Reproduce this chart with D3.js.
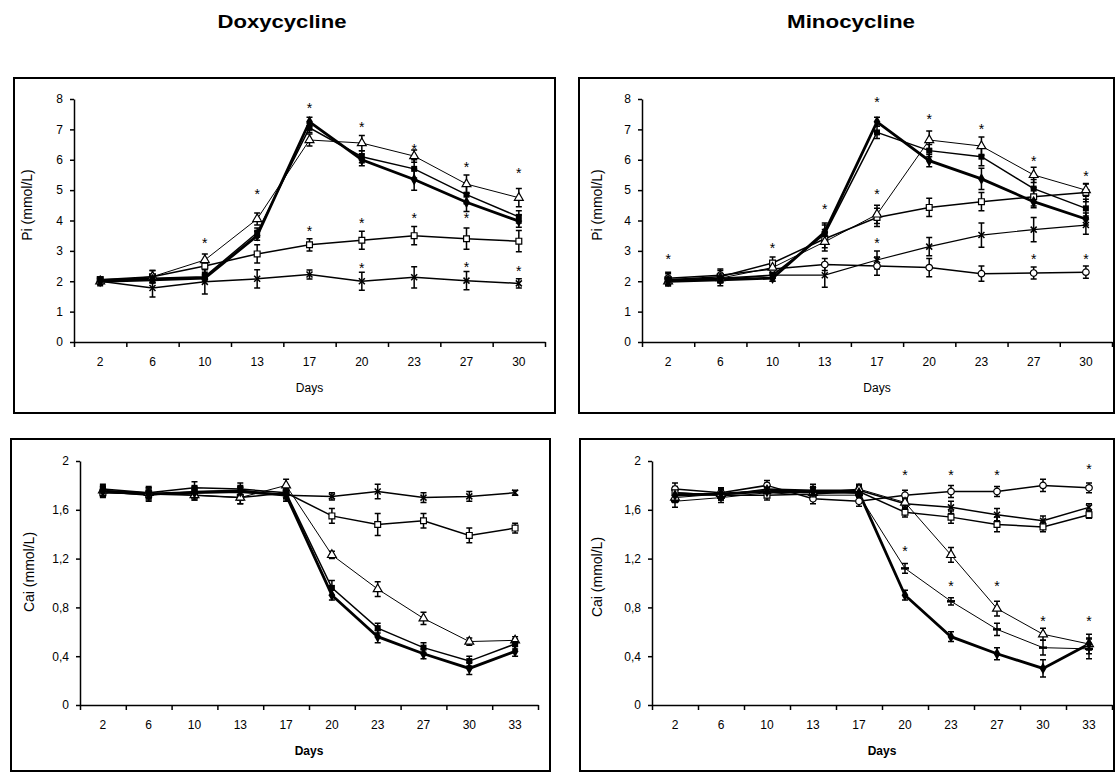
<!DOCTYPE html>
<html><head><meta charset="utf-8">
<script src="https://cdn.jsdelivr.net/npm/d3@7/dist/d3.min.js"></script>
<style>
body{margin:0;background:#fff;}
svg text{font-family:"Liberation Sans",Arial,sans-serif;fill:#000;}
</style></head>
<body><svg id="c" width="1115" height="773"></svg>
<script>
// ---------- categories & tick labels ----------
const daysPi = ["2","6","10","13","17","20","23","27","30"];
const daysCa = ["2","6","10","13","17","20","23","27","30","33"];
const piTicks = [0,1,2,3,4,5,6,7,8];
const caTicks = [0,0.4,0.8,1.2,1.6,2];
const caTickLabels = ["0","0,4","0,8","1,2","1,6","2"];

// ---------- Doxycycline Pi ----------
const dPiDiamond  = [2.0,2.05,2.1,3.5,7.25,6.0,5.35,4.6,3.98];
const dPiFSquare  = [2.05,2.1,2.15,3.6,7.05,6.1,5.7,4.85,4.12];
const dPiTriangle = [2.0,2.15,2.7,4.05,6.65,6.55,6.12,5.2,4.75];
const dPiOSquare  = [2.05,2.15,2.5,2.9,3.2,3.35,3.5,3.4,3.32];
const dPiCross    = [2.0,1.78,1.98,2.08,2.22,2.0,2.13,2.02,1.93];
const dPiDiamondE  = [0.1,0.1,0.1,0.15,0.15,0.2,0.35,0.3,0.2];
const dPiFSquareE  = [0.1,0.1,0.1,0.15,0.15,0.2,0.3,0.3,0.2];
const dPiTriangleE = [0.1,0.2,0.2,0.2,0.2,0.25,0.2,0.3,0.3];
const dPiOSquareE  = [0.1,0.2,0.2,0.3,0.2,0.3,0.3,0.35,0.35];
const dPiCrossE    = [0.15,0.3,0.4,0.3,0.15,0.3,0.35,0.3,0.15];
const dPiStars = [[2,3.3],[3,4.9],[4,7.75],[5,7.1],[6,6.4],[7,5.8],[8,5.6],[4,3.7],[5,3.96],[6,4.1],[7,4.1],[5,2.48],[7,2.5],[8,2.37]];

// ---------- Minocycline Pi ----------
const mPiDiamond  = [2.0,2.05,2.1,3.62,7.25,5.97,5.37,4.62,4.05];
const mPiFSquare  = [2.05,2.1,2.2,3.55,6.9,6.3,6.1,5.05,4.4];
const mPiTriangle = [2.0,2.1,2.45,3.3,4.2,6.65,6.45,5.5,5.0];
const mPiOSquare  = [2.05,2.15,2.6,3.4,4.1,4.43,4.62,4.78,4.92];
const mPiCross    = [2.0,2.05,2.2,2.2,2.7,3.14,3.52,3.7,3.85];
const mPiCircle   = [2.1,2.2,2.4,2.55,2.5,2.45,2.25,2.27,2.3];
const mPiDiamondE  = [0.1,0.1,0.1,0.3,0.15,0.2,0.35,0.2,0.2];
const mPiFSquareE  = [0.1,0.1,0.1,0.3,0.2,0.2,0.3,0.3,0.3];
const mPiTriangleE = [0.1,0.1,0.2,0.3,0.3,0.3,0.3,0.25,0.2];
const mPiOSquareE  = [0.2,0.2,0.2,0.3,0.3,0.3,0.3,0.3,0.3];
const mPiCrossE    = [0.15,0.2,0.2,0.4,0.3,0.3,0.4,0.4,0.3];
const mPiCircleE   = [0.2,0.2,0.2,0.2,0.3,0.3,0.25,0.2,0.2];
const mPiStars = [[0,2.75],[2,3.14],[3,4.42],[4,7.93],[5,7.38],[6,7.03],[7,6.0],[8,5.5],[4,4.9],[4,3.3],[7,2.78],[8,2.78]];

// ---------- Doxycycline Cai ----------
const dCaDiamond  = [1.75,1.73,1.74,1.75,1.72,0.9,0.56,0.42,0.3,0.44];
const dCaFSquare  = [1.77,1.74,1.78,1.77,1.74,0.96,0.63,0.47,0.36,0.5];
const dCaTriangle = [1.76,1.74,1.72,1.7,1.8,1.23,0.95,0.71,0.52,0.53];
const dCaOSquare  = [1.74,1.73,1.72,1.7,1.74,1.55,1.48,1.51,1.39,1.45];
const dCaCross    = [1.75,1.72,1.75,1.76,1.72,1.71,1.75,1.7,1.71,1.74];
const dCaDiamondE  = [0.04,0.04,0.04,0.04,0.05,0.04,0.05,0.04,0.05,0.04];
const dCaFSquareE  = [0.04,0.04,0.05,0.05,0.05,0.06,0.04,0.04,0.04,0.04];
const dCaTriangleE = [0.04,0.04,0.04,0.05,0.05,0.03,0.06,0.05,0.03,0.03];
const dCaOSquareE  = [0.04,0.06,0.04,0.05,0.05,0.06,0.09,0.06,0.06,0.04];
const dCaCrossE    = [0.04,0.04,0.04,0.04,0.05,0.03,0.06,0.04,0.04,0.02];

// ---------- Minocycline Cai ----------
const mCaDiamond  = [1.72,1.73,1.75,1.75,1.74,0.9,0.56,0.42,0.3,0.5];
const mCaFSquare  = [1.74,1.72,1.77,1.76,1.76,1.65,1.62,1.56,1.51,1.62];
const mCaTriangle = [1.7,1.73,1.76,1.74,1.77,1.66,1.23,0.79,0.58,0.5];
const mCaOSquare  = [1.74,1.72,1.72,1.73,1.75,1.58,1.54,1.48,1.46,1.56];
const mCaDash     = [1.67,1.7,1.74,1.72,1.72,1.12,0.85,0.62,0.47,0.46];
const mCaCircle   = [1.77,1.74,1.8,1.69,1.67,1.72,1.75,1.75,1.8,1.78];
const mCaDiamondE  = [0.04,0.04,0.04,0.04,0.04,0.04,0.04,0.05,0.07,0.05];
const mCaFSquareE  = [0.05,0.04,0.05,0.05,0.04,0.04,0.05,0.05,0.04,0.03];
const mCaTriangleE = [0.04,0.04,0.05,0.04,0.04,0.04,0.06,0.06,0.05,0.08];
const mCaOSquareE  = [0.04,0.04,0.04,0.04,0.04,0.04,0.05,0.06,0.04,0.03];
const mCaDashE     = [0.05,0.04,0.04,0.04,0.04,0.04,0.03,0.05,0.06,0.08];
const mCaCircleE   = [0.05,0.04,0.04,0.04,0.04,0.04,0.05,0.04,0.05,0.04];
const mCaStars = [[5,1.89],[6,1.89],[7,1.89],[9,1.94],[5,1.27],[6,0.98],[7,0.98],[8,0.7],[9,0.7]];

// ---------- drawing ----------
const svg = d3.select("#c");

function marker(g, type, x, y){
  const s = g.append("g").attr("transform", `translate(${x},${y})`);
  if(type==="diamond") s.append("path").attr("d", d3.symbol(d3.symbolDiamond, 40)()).attr("fill","#000");
  else if(type==="fsquare") s.append("path").attr("d", d3.symbol(d3.symbolSquare, 36)()).attr("fill","#000");
  else if(type==="triangle") s.append("path").attr("d", d3.symbol(d3.symbolTriangle, 34)()).attr("fill","#fff").attr("stroke","#000").attr("stroke-width",1.2);
  else if(type==="osquare") s.append("path").attr("d", d3.symbol(d3.symbolSquare, 34)()).attr("fill","#fff").attr("stroke","#000").attr("stroke-width",1.2);
  else if(type==="circle") s.append("path").attr("d", d3.symbol(d3.symbolCircle, 34)()).attr("fill","#fff").attr("stroke","#000").attr("stroke-width",1.2);
  else if(type==="cross") s.append("path").attr("d","M-3,-3L3,3M-3,3L3,-3").attr("stroke","#000").attr("stroke-width",1.5);
  else if(type==="dash") s.append("path").attr("d","M-4,0L4,0").attr("stroke","#000").attr("stroke-width",2.5);
}

function panel(o){
  const g = svg.append("g");
  g.append("rect").attr("x",o.box[0]).attr("y",o.box[1]).attr("width",o.box[2]-o.box[0]).attr("height",o.box[3]-o.box[1])
    .attr("fill","none").attr("stroke","#000").attr("stroke-width",2);
  const x = d3.scaleBand().domain(o.cats).range([o.x0,o.x1]).padding(0);
  const xi = d3.scaleLinear().domain([0,o.cats.length]).range([o.x0,o.x1]);
  const y = d3.scaleLinear().domain([0,o.ymax]).range([o.yb,o.yt]);
  const cx = c => x(c)+x.bandwidth()/2;

  const ya = g.append("g").attr("transform",`translate(${o.x0},0)`)
    .call(d3.axisLeft(y).tickValues(o.ticks).tickFormat((d,i)=>o.tickLabels[i]).tickSize(4).tickPadding(7).tickSizeOuter(0));
  ya.selectAll("text").style("font-size","12px");
  ya.selectAll("path,line").attr("stroke","#000").attr("stroke-width",1.5);
  const xa = g.append("g").attr("transform",`translate(0,${o.yb})`)
    .call(d3.axisBottom(xi).tickValues(d3.range(o.cats.length+1)).tickFormat("").tickSize(5).tickSizeOuter(0));
  xa.selectAll("path,line").attr("stroke","#000").attr("stroke-width",1.5);
  const xl = g.append("g").attr("transform",`translate(0,${o.yb})`)
    .call(d3.axisBottom(x).tickSize(0).tickPadding(15));
  xl.select(".domain").remove();
  xl.selectAll("text").style("font-size","12px");

  g.append("text").attr("x",(o.x0+o.x1)/2).attr("y",o.yb+50).attr("text-anchor","middle")
    .style("font-size","12px").style("font-weight",o.daysBold?"bold":"normal").text("Days");
  g.append("text").attr("transform",`translate(${o.ylx},${o.yly}) rotate(-90)`).attr("text-anchor","middle")
    .attr("dy","0.35em").style("font-size","14px").text(o.ylabel);

  const line = d3.line().x((d,i)=>cx(o.cats[i])).y(d=>y(d));
  o.series.forEach(s=>{
    g.append("path").attr("d", line(s.v)).attr("fill","none").attr("stroke","#000").attr("stroke-width",s.w);
  });
  o.series.forEach(s=>{
    s.v.forEach((v,i)=>{
      const e = s.e[i], px = cx(o.cats[i]);
      g.append("path").attr("d",`M${px},${y(v-e)}L${px},${y(v+e)}M${px-3},${y(v-e)}L${px+3},${y(v-e)}M${px-3},${y(v+e)}L${px+3},${y(v+e)}`)
        .attr("stroke","#000").attr("stroke-width",1.5).attr("fill","none");
    });
  });
  o.series.forEach(s=>{
    s.v.forEach((v,i)=> marker(g, s.m, cx(o.cats[i]), y(v)));
  });
  (o.stars||[]).forEach(st=>{
    g.append("text").attr("x",cx(o.cats[st[0]])).attr("y",y(st[1])+6).attr("text-anchor","middle")
      .style("font-size","14px").text("*");
  });
}

svg.append("text").attr("x",282).attr("y",28).attr("text-anchor","middle").style("font-size","19px").style("font-weight","bold")
  .attr("textLength",129).attr("lengthAdjust","spacingAndGlyphs").text("Doxycycline");
svg.append("text").attr("x",851).attr("y",28).attr("text-anchor","middle").style("font-size","19px").style("font-weight","bold")
  .attr("textLength",128).attr("lengthAdjust","spacingAndGlyphs").text("Minocycline");

panel({box:[14,78,555,413], x0:74, x1:545, yt:99, yb:342, ymax:8, ticks:piTicks, tickLabels:piTicks.map(String), cats:daysPi,
  ylabel:"Pi (mmol/L)", ylx:27, yly:205, daysBold:false, stars:dPiStars,
  series:[
    {v:dPiCross,e:dPiCrossE,m:"cross",w:1.5},
    {v:dPiOSquare,e:dPiOSquareE,m:"osquare",w:1.5},
    {v:dPiTriangle,e:dPiTriangleE,m:"triangle",w:1},
    {v:dPiFSquare,e:dPiFSquareE,m:"fsquare",w:1.5},
    {v:dPiDiamond,e:dPiDiamondE,m:"diamond",w:2.8}
  ]});

panel({box:[579,78,1114,413], x0:642, x1:1112, yt:99, yb:342, ymax:8, ticks:piTicks, tickLabels:piTicks.map(String), cats:daysPi,
  ylabel:"Pi (mmol/L)", ylx:597, yly:205, daysBold:false, stars:mPiStars,
  series:[
    {v:mPiCircle,e:mPiCircleE,m:"circle",w:1.5},
    {v:mPiCross,e:mPiCrossE,m:"cross",w:1.2},
    {v:mPiOSquare,e:mPiOSquareE,m:"osquare",w:1.5},
    {v:mPiTriangle,e:mPiTriangleE,m:"triangle",w:1},
    {v:mPiFSquare,e:mPiFSquareE,m:"fsquare",w:1.5},
    {v:mPiDiamond,e:mPiDiamondE,m:"diamond",w:2.8}
  ]});

panel({box:[11,439,550,771], x0:80, x1:538, yt:461, yb:705, ymax:2, ticks:caTicks, tickLabels:caTickLabels, cats:daysCa,
  ylabel:"Cai (mmol/L)", ylx:29, yly:572, daysBold:true, stars:[],
  series:[
    {v:dCaCross,e:dCaCrossE,m:"cross",w:1.5},
    {v:dCaOSquare,e:dCaOSquareE,m:"osquare",w:1.5},
    {v:dCaTriangle,e:dCaTriangleE,m:"triangle",w:1},
    {v:dCaFSquare,e:dCaFSquareE,m:"fsquare",w:1.5},
    {v:dCaDiamond,e:dCaDiamondE,m:"diamond",w:2.8}
  ]});

panel({box:[580,439,1114,771], x0:652, x1:1112, yt:461, yb:705, ymax:2, ticks:caTicks, tickLabels:caTickLabels, cats:daysCa,
  ylabel:"Cai (mmol/L)", ylx:597, yly:577, daysBold:true, stars:mCaStars,
  series:[
    {v:mCaCircle,e:mCaCircleE,m:"circle",w:1.5},
    {v:mCaFSquare,e:mCaFSquareE,m:"cross",w:1.5},
    {v:mCaOSquare,e:mCaOSquareE,m:"osquare",w:1.5},
    {v:mCaTriangle,e:mCaTriangleE,m:"triangle",w:1},
    {v:mCaDash,e:mCaDashE,m:"dash",w:1},
    {v:mCaDiamond,e:mCaDiamondE,m:"diamond",w:2.8}
  ]});
</script></body></html>
